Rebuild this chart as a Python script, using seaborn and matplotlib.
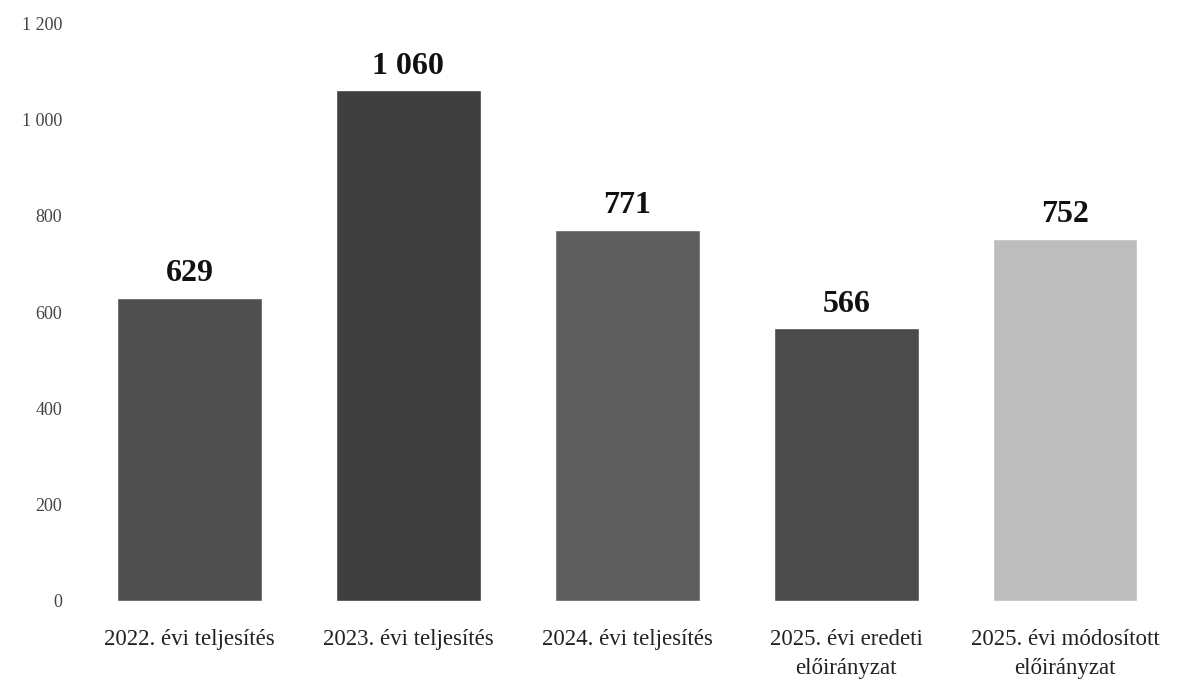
import matplotlib
matplotlib.use("Agg")
import matplotlib.pyplot as plt
import seaborn as sns
import pandas as pd

categories = ["2022. évi teljesítés", "2023. évi teljesítés", "2024. évi teljesítés",
              "2025. évi eredeti\nelőirányzat", "2025. évi módosított\nelőirányzat"]
values = [629, 1060, 771, 566, 752]
value_labels = ["629", "1 060", "771", "566", "752"]
bar_colors = ["#4f4f4f", "#3f3f3f", "#5e5e5e", "#4b4b4b", "#bdbdbd"]
y_ticks = [0, 200, 400, 600, 800, 1000, 1200]
y_tick_labels = ["0", "200", "400", "600", "800", "1 000", "1 200"]

sns.set_style("white")
plt.rcParams["font.family"] = ["Liberation Serif", "DejaVu Serif"]

df = pd.DataFrame({"cat": categories, "val": values})

fig = plt.figure(figsize=(11.83, 6.81), dpi=100)
ax = fig.add_axes([0.0676, 0.1175, 0.9254, 0.8487])
sns.barplot(data=df, x="cat", y="val", hue="cat", palette=bar_colors,
            width=0.66, legend=False, ax=ax, saturation=1)

ax.set_xlim(-0.5, 4.5)
ax.set_ylim(0, 1200)
ax.set_yticks(y_ticks)
ax.set_yticklabels(y_tick_labels, fontsize=13, color="#444444")
ax.tick_params(axis="x", labelsize=16.5, colors="#222222", length=0, pad=20)
for lbl in ax.get_xticklabels():
    lbl.set_linespacing(1.5)
ax.tick_params(axis="y", length=0, pad=13)
ax.set_xlabel("")
ax.set_ylabel("")
for s in ax.spines.values():
    s.set_visible(False)

for i, cont in enumerate(ax.containers):
    ax.bar_label(cont, labels=[value_labels[i]], padding=7, fontsize=23,
                 fontweight="bold", color="#111111")

fig.savefig("out.png", dpi=100)
